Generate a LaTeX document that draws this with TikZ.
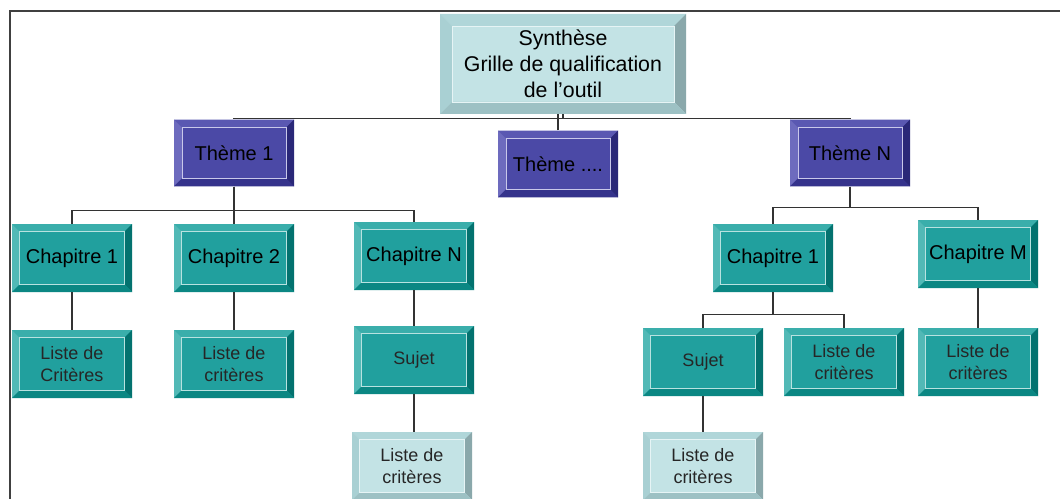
\documentclass[tikz,border=0pt]{standalone}
\usepackage{fontspec}
\setmainfont{Liberation Sans}
\usetikzlibrary{calc}

\definecolor{tealface}{HTML}{21A09E}
\definecolor{tealtop}{HTML}{3AAEAB}
\definecolor{tealleft}{HTML}{52B9B6}
\definecolor{tealright}{HTML}{03726F}
\definecolor{tealbot}{HTML}{0B8783}
\definecolor{tealline}{HTML}{B8E2E0}
\definecolor{purpface}{HTML}{4B49A6}
\definecolor{purptop}{HTML}{5A58B2}
\definecolor{purpleft}{HTML}{6D6BBE}
\definecolor{purpright}{HTML}{2A2878}
\definecolor{purpbot}{HTML}{35338C}
\definecolor{purpline}{HTML}{C9C8EA}
\definecolor{paleface}{HTML}{C3E3E5}
\definecolor{paletop}{HTML}{B0D6D9}
\definecolor{paleleft}{HTML}{A9D0D3}
\definecolor{paleright}{HTML}{8AA8AB}
\definecolor{palebot}{HTML}{9DC1C4}
\definecolor{paleline}{HTML}{E6F4F5}

\newcommand{\synfont}{\fontsize{16}{19.5}\selectfont}
\newcommand{\capfont}{\fontsize{15}{18}\selectfont}
\newcommand{\lstfont}{\fontsize{13.5}{16.5}\selectfont}

\tikzset{
  bevw/.store in=\bevw, bevw=5.5pt,
  bevelbox/.style n args={6}{%
    rectangle, fill=#1, inner sep=0pt, align=center,
    path picture={
      \coordinate (bvnw) at (path picture bounding box.north west);
      \coordinate (bvne) at (path picture bounding box.north east);
      \coordinate (bvsw) at (path picture bounding box.south west);
      \coordinate (bvse) at (path picture bounding box.south east);
      \fill[#2] (bvnw) -- (bvne) -- ([shift={(-\bevw,-\bevw)}]bvne) -- ([shift={(\bevw,-\bevw)}]bvnw) -- cycle;
      \fill[#3] (bvnw) -- (bvsw) -- ([shift={(\bevw,\bevw)}]bvsw) -- ([shift={(\bevw,-\bevw)}]bvnw) -- cycle;
      \fill[#4] (bvne) -- (bvse) -- ([shift={(-\bevw,\bevw)}]bvse) -- ([shift={(-\bevw,-\bevw)}]bvne) -- cycle;
      \fill[#5] (bvsw) -- (bvse) -- ([shift={(-\bevw,\bevw)}]bvse) -- ([shift={(\bevw,\bevw)}]bvsw) -- cycle;
      \draw[#6, line width=0.7pt] ([shift={(\bevw,-\bevw)}]bvnw) rectangle ([shift={(-\bevw,\bevw)}]bvse);
    }},
  topbox/.style={bevelbox={paleface}{paletop}{paleleft}{paleright}{palebot}{paleline},
    bevw=9pt, minimum width=184.5pt, minimum height=75pt, font=\synfont},
  themebox/.style={bevelbox={purpface}{purptop}{purpleft}{purpright}{purpbot}{purpline},
    bevw=6pt, minimum width=90pt, minimum height=50pt, font=\capfont},
  chapbox/.style={bevelbox={tealface}{tealtop}{tealleft}{tealright}{tealbot}{tealline},
    minimum width=90pt, minimum height=51pt, font=\capfont},
  listbox/.style={chapbox, font=\lstfont, text=black!85},
  palebox/.style={bevelbox={paleface}{paletop}{paleleft}{paleright}{palebot}{paleline},
    minimum width=90pt, minimum height=51pt, font=\lstfont, text=black!85},
  link/.style={draw=black!80, line width=0.8pt},
  frame/.style={draw=black!75, line width=1.6pt}
}

\begin{document}
\begin{tikzpicture}[x=0.75pt, y=-0.75pt]
  \useasboundingbox (0,0) rectangle (1060,499);
  \fill[white] (0,0) rectangle (1060,499);
  \draw[frame] (9,11) -- (1060,11);
  \draw[frame] (10,11) -- (10,499);

  \node[topbox] (syn) at (563,64) {Synthèse\\Grille de qualification\\de l'outil};

  \node[themebox] (th1) at (234,153) {Thème 1};
  \node[themebox] (thx) at (558,164) {Thème ....};
  \node[themebox] (thN) at (850,153) {Thème N};

  \node[chapbox] (c11) at (72,258) {Chapitre 1};
  \node[chapbox] (c12) at (234,258) {Chapitre 2};
  \node[chapbox] (c1N) at (414,256) {Chapitre N};
  \node[chapbox] (c21) at (773,258) {Chapitre 1};
  \node[chapbox] (c2M) at (978,254) {Chapitre M};

  \node[listbox] (l11) at (72,364) {Liste de\\Critères};
  \node[listbox] (l12) at (234,364) {Liste de\\critères};
  \node[listbox] (s1) at (414,360) {Sujet};
  \node[listbox] (s2) at (703,362) {Sujet};
  \node[listbox] (l21) at (844,362) {Liste de\\critères};
  \node[listbox] (l2M) at (978,362) {Liste de\\critères};

  \node[palebox] (l1s) at (412,466) {Liste de\\critères};
  \node[palebox] (l2s) at (703,466) {Liste de\\critères};

  % tree links
  \draw[link] (syn.south) -- ++(0,4) -| (th1.north);
  \draw[link] (syn.south) -- ++(0,4) -| (thN.north);
  \draw[link] (thx.north) -- (thx.north |- syn.south);
  \foreach \c in {c11,c12,c1N}
    \draw[link] (th1.south) -- ++(0,24) -| (\c.north);
  \foreach \c in {c21,c2M}
    \draw[link] (thN.south) -- ++(0,21) -| (\c.north);
  \foreach \c in {s2,l21}
    \draw[link] (c21.south) -- ++(0,22) -| (\c.north);
  \foreach \a/\b in {c11/l11,c12/l12,c1N/s1,s1/l1s,s2/l2s,c2M/l2M}
    \draw[link] (\a.south) -- (\a.south |- \b.north);
\end{tikzpicture}
\end{document}
